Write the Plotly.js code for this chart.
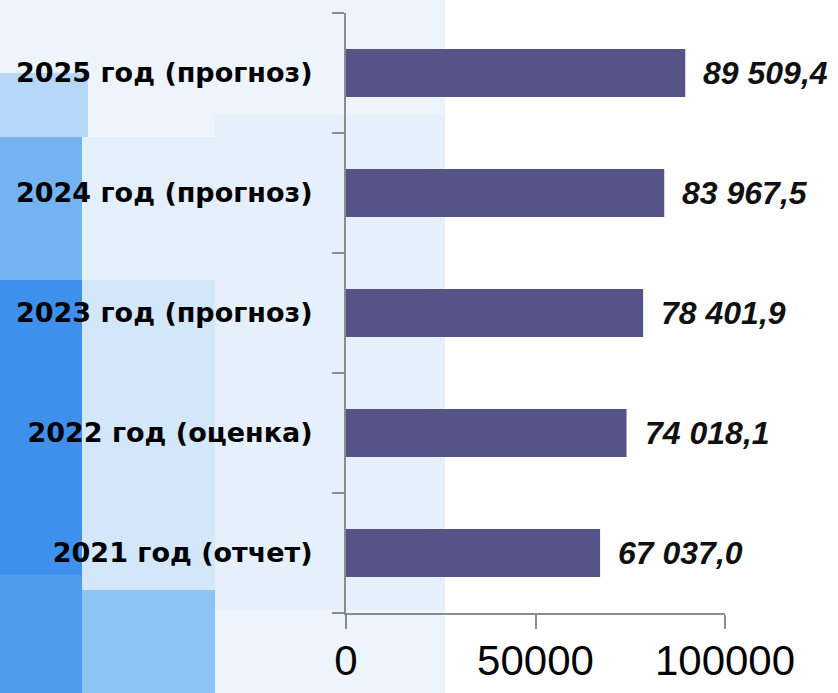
<!DOCTYPE html>
<html>
<head>
<meta charset="utf-8">
<script src="https://cdn.plot.ly/plotly-3.0.1.min.js"></script>
<style>html,body{margin:0;padding:0;background:#fff;}#chart{width:838px;height:693px;}</style>
</head>
<body>
<div id="chart"></div>
<script>
const categories = ["2021 год (отчет)", "2022 год (оценка)", "2023 год (прогноз)", "2024 год (прогноз)", "2025 год (прогноз)"];
const values = [67037.0, 74018.1, 78401.9, 83967.5, 89509.4];
const valueLabels = ["67 037,0", "74 018,1", "78 401,9", "83 967,5", "89 509,4"];
const xTickValues = [0, 50000, 100000];
const xTickLabels = ["0", "50000", "100000"];

const W = 838, H = 693;
const M = {l: 346, r: 113, t: 13, b: 80};
const pw = W - M.l - M.r, ph = H - M.t - M.b;
function px2x(px){ return (px - M.l) / pw; }
function py2y(py){ return (H - M.b - py) / ph; }
function rect(x0, y0, x1, y1, color){
  return {type:'rect', xref:'paper', yref:'paper', layer:'below',
    x0:px2x(x0), x1:px2x(x1), y0:py2y(y1), y1:py2y(y0),
    fillcolor:color, line:{width:0}};
}
const bgShapes = [
  rect(0, 0, 445, 693, '#eef4fb'),
  rect(215, 115, 445, 610, '#e5f0fc'),
  rect(82, 137, 215, 280, '#e3effb'),
  rect(82, 280, 215, 590, '#d2e7fa'),
  rect(82, 590, 215, 693, '#8cc4f5'),
  rect(0, 73, 88, 137, '#b7d7f8'),
  rect(0, 137, 82, 280, '#74b3f2'),
  rect(0, 280, 82, 575, '#3e90ec'),
  rect(0, 575, 82, 693, '#4f9cee')
];

const annotations = categories.map((c, i) => ({
  x: values[i], y: c, xref: 'x', yref: 'y',
  text: valueLabels[i], showarrow: false,
  xanchor: 'left', yanchor: 'middle', xshift: 16,
  font: {family: 'Liberation Sans, Arial, sans-serif', size: 32, color: '#111', weight: 'bold', style: 'italic'}
}));

const trace = {
  type: 'bar', orientation: 'h',
  y: categories, x: values,
  marker: {color: '#545489', line: {width: 0}},
  width: 0.4,
  hoverinfo: 'none'
};

const layout = {
  width: W, height: H,
  margin: M,
  paper_bgcolor: '#ffffff',
  plot_bgcolor: 'rgba(0,0,0,0)',
  showlegend: false,
  shapes: bgShapes,
  annotations: annotations,
  xaxis: {
    range: [0, 100000], tickvals: xTickValues, ticktext: xTickLabels,
    showgrid: false, zeroline: false, showline: true, linecolor: '#8c8c8c', linewidth: 2,
    ticks: 'outside', ticklen: 14, tickwidth: 2, tickcolor: '#8c8c8c',
    tickfont: {family: 'Liberation Sans, Arial, sans-serif', size: 42, color: '#000'},
    ticklabelstandoff: -4, fixedrange: true
  },
  yaxis: {
    type: 'category', categoryorder: 'array', categoryarray: categories,
    tickson: 'boundaries',
    showgrid: false, zeroline: false, showline: true, linecolor: '#8c8c8c', linewidth: 2,
    ticks: 'outside', ticklen: 12, tickwidth: 2, tickcolor: '#8c8c8c',
    tickfont: {family: 'DejaVu Sans, sans-serif', size: 27, color: '#000', weight: 'bold'},
    ticklabelstandoff: 26, fixedrange: true
  }
};

Plotly.newPlot('chart', [trace], layout, {displayModeBar: false, staticPlot: true});
</script>
</body>
</html>
